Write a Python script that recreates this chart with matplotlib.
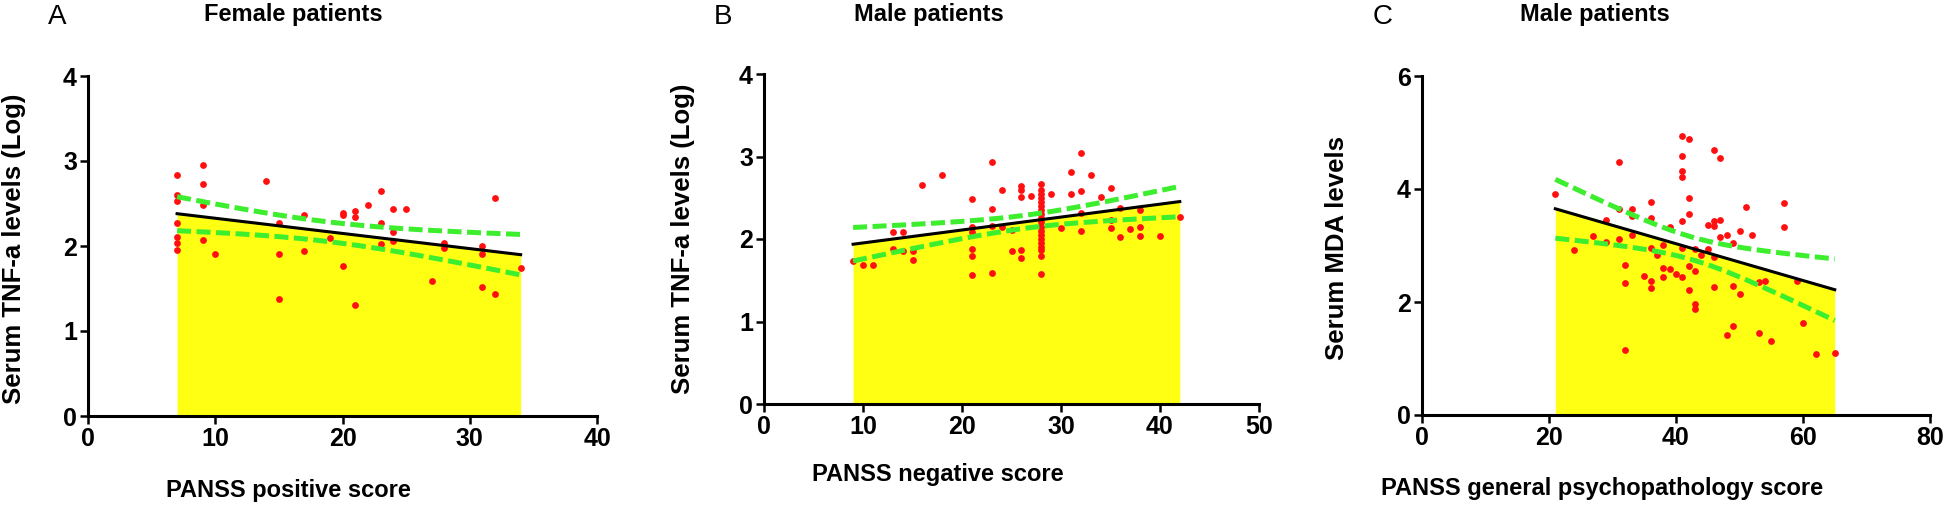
#Three scatter panels with linear fit, 95% CI band and yellow area under the fit
import matplotlib.pyplot as plt
import numpy as np

#Panel A - female patients, PANSS positive vs TNF-a (log)
a_x = [7, 7, 7, 7, 7, 7, 7, 9, 9, 9, 9, 10, 14, 15, 15, 15, 17, 17, 19, 20, 20, 20,
       21, 21, 21, 22, 23, 23, 23, 24, 24, 24, 25, 27, 28, 28, 31, 31, 31, 32, 32, 34]
a_y = [2.83, 2.60, 2.53, 2.27, 2.11, 2.04, 1.95, 2.95, 2.73, 2.48, 2.07, 1.91, 2.76,
       2.27, 1.91, 1.38, 2.36, 1.94, 2.09, 2.39, 2.37, 1.76, 2.41, 2.34, 1.31, 2.48,
       2.65, 2.27, 2.02, 2.44, 2.17, 2.06, 2.44, 1.59, 2.04, 1.98, 2.00, 1.91, 1.52,
       2.56, 1.44, 1.74]

#Panel B - male patients, PANSS negative vs TNF-a (log)
b_x = [9, 10, 11, 13, 13, 14, 14, 15, 15, 16, 18, 21, 21, 21, 21, 21, 21, 23, 23, 23, 23,
       24, 24, 25, 25, 26, 26, 26, 26, 26, 27,
       28, 28, 28, 28, 28, 28, 28, 28, 28, 28, 28, 28, 28, 28, 28, 28, 28, 28, 28,
       29, 30, 31, 31, 32, 32, 32, 32, 33, 34, 35, 35, 35, 36, 36, 37, 38, 38, 38, 40, 42]
b_y = [1.73, 1.68, 1.68, 2.08, 1.88, 2.08, 1.85, 1.85, 1.74, 2.65, 2.78, 2.48, 2.15,
       2.08, 1.88, 1.80, 1.56, 2.93, 2.36, 2.16, 1.59, 2.59, 2.15, 2.11, 1.85, 2.64,
       2.59, 2.51, 1.87, 1.77, 2.52,
       2.67, 2.60, 2.55, 2.50, 2.45, 2.40, 2.35, 2.30, 2.25, 2.20, 2.15, 2.10, 2.05,
       2.00, 1.95, 1.90, 1.87, 1.80, 1.57,
       2.54, 2.13, 2.81, 2.55, 3.04, 2.58, 2.31, 2.10, 2.78, 2.51, 2.62, 2.23, 2.13,
       2.37, 2.02, 2.12, 2.35, 2.14, 2.04, 2.04, 2.27]

#Panel C - male patients, PANSS general psychopathology vs MDA
c_x = [21, 24, 27, 29, 29, 31, 31, 31, 32, 32, 32, 33, 33, 33, 35, 36, 36, 36, 36, 36,
       37, 38, 38, 38, 39, 39, 40, 41, 41, 41, 41, 41, 41, 41, 42, 42, 42, 42, 42,
       43, 43, 43, 43, 44, 45, 45, 46, 46, 46, 46, 46, 47, 47, 47, 48, 48, 49, 49, 49,
       50, 50, 51, 52, 53, 53, 54, 55, 57, 57, 59, 60, 62, 65]
c_y = [3.92, 2.92, 3.16, 3.46, 3.06, 4.48, 3.65, 3.12, 2.66, 2.34, 1.15, 3.64, 3.52,
       3.18, 2.46, 3.77, 3.48, 2.96, 2.38, 2.25, 2.83, 3.01, 2.60, 2.45, 3.33, 2.58,
       2.49, 4.93, 4.58, 4.32, 4.21, 3.44, 2.96, 2.44, 4.89, 3.84, 3.55, 2.64, 2.22,
       2.93, 2.55, 1.97, 1.87, 2.83, 3.36, 2.93, 4.69, 3.44, 3.35, 2.79, 2.26, 4.54,
       3.46, 3.15, 3.18, 1.41, 3.05, 2.28, 1.58, 3.25, 2.15, 3.69, 3.19, 2.36, 1.46,
       2.38, 1.31, 3.76, 3.32, 2.38, 1.62, 1.08, 1.09]

letters = ['A', 'B', 'C']
titles = ['Female patients', 'Male patients', 'Male patients']
xlabels = ['PANSS positive score', 'PANSS negative score',
           'PANSS general psychopathology score']
ylabels = ['Serum TNF-a levels (Log)', 'Serum TNF-a levels (Log)', 'Serum MDA levels']
xticks = [[0, 10, 20, 30, 40], [0, 10, 20, 30, 40, 50], [0, 20, 40, 60, 80]]
yticks = [[0, 1, 2, 3, 4], [0, 1, 2, 3, 4], [0, 2, 4, 6]]

W, H = 1946, 507
#axes boxes in pixels: left, right, top, bottom
boxes = [(88, 597, 76, 416), (764, 1259, 74, 404), (1422, 1930, 76, 415)]
#text anchors in pixels
letter_pos = [(57, 17), (723, 17), (1383, 17)]
title_pos = [(293, 15), (929, 15), (1595, 15)]
xlab_pos = [(288, 490), (938, 475), (1602, 489)]
ylab_pos = [(14, 249), (683, 239), (1337, 248)]

plt.rcParams['font.family'] = ['Liberation Sans', 'DejaVu Sans']

fig = plt.figure(figsize=(W / 100, H / 100), dpi=100)

def fx(x):
    return x / W

def fy(y):
    return 1 - y / H

data = [(a_x, a_y), (b_x, b_y), (c_x, c_y)]
green = '#3cee2e'

for i, (xs, ys) in enumerate(data):
    l, r, t, b = boxes[i]
    ax = fig.add_axes([fx(l), fy(b), (r - l) / W, (b - t) / H])
    x = np.array(xs, dtype=float)
    y = np.array(ys, dtype=float)

    #linear fit and 95% confidence band of the mean
    n = len(x)
    slope, icpt = np.polyfit(x, y, 1)
    resid = y - (icpt + slope * x)
    s = np.sqrt(np.sum(resid ** 2) / (n - 2))
    tval = 1.96 + 2.4 / (n - 2)
    xx = np.linspace(x.min(), x.max(), 200)
    yy = icpt + slope * xx
    se = s * np.sqrt(1 / n + (xx - x.mean()) ** 2 / np.sum((x - x.mean()) ** 2))

    ax.fill_between(xx, 0, yy, color='#ffff14', lw=0, zorder=1)
    ax.scatter(x, y, s=24, color='#ff1010', lw=0, zorder=3, clip_on=False)
    ax.plot(xx, yy, color='black', lw=2.2, zorder=4)
    for sign in (1, -1):
        ax.plot(xx, yy + sign * tval * se, color=green, lw=3.6,
                dashes=(2.8, 1.1), zorder=5)

    ax.set_xlim(xticks[i][0], xticks[i][-1])
    ax.set_ylim(yticks[i][0], yticks[i][-1])
    ax.set_xticks(xticks[i])
    ax.set_yticks(yticks[i])
    for side in ['top', 'right']:
        ax.spines[side].set_visible(False)
    for side in ['left', 'bottom']:
        ax.spines[side].set_linewidth(2.2)
    ax.tick_params(width=1.8, length=6, pad=2, labelsize=18)
    for lab in ax.get_xticklabels() + ax.get_yticklabels():
        lab.set_fontweight('bold')

    fig.text(fx(letter_pos[i][0]), fy(letter_pos[i][1]), letters[i],
             fontsize=20, ha='center', va='center')
    fig.text(fx(title_pos[i][0]), fy(title_pos[i][1]), titles[i],
             fontsize=17, fontweight='bold', ha='center', va='center')
    fig.text(fx(xlab_pos[i][0]), fy(xlab_pos[i][1]), xlabels[i],
             fontsize=17, fontweight='bold', ha='center', va='center')
    fig.text(fx(ylab_pos[i][0]), fy(ylab_pos[i][1]), ylabels[i],
             fontsize=18.5, fontweight='bold', ha='center', va='center', rotation=90)

fig.savefig('out.png', dpi=100)
